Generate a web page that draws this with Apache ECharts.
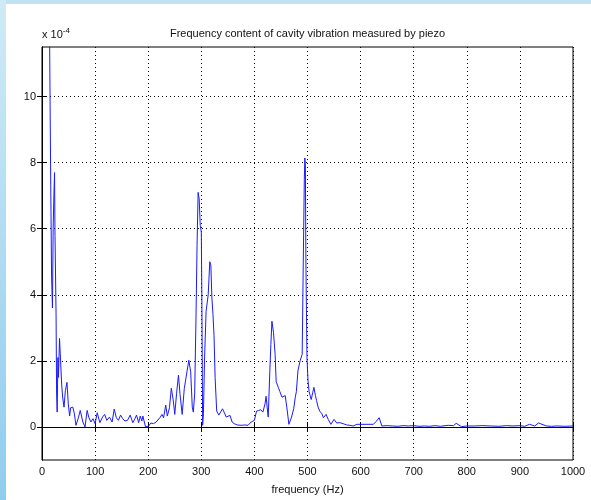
<!DOCTYPE html>
<html>
<head>
<meta charset="utf-8">
<script src="https://cdn.jsdelivr.net/npm/echarts@6/dist/echarts.min.js"></script>
<style>html,body{margin:0;padding:0;background:#fff}#c{width:591px;height:500px}</style>
</head>
<body>
<div id="c"></div>
<script>
// frequency (Hz)
const freq = [14,15,16.5,18,19.7,21,22.5,23.6,24.5,25.5,26.5,27.5,28.6,30,31,33,35,37,39,41.5,44,47,49.5,52,54,58,61,64,68,72,77,81,85,88,92,96,100,104,109,114,118,122,127,132,136,140,144,148,152,156,161,166,171,175,178,182,185,188,190,193,195,197,201,205,210,215,218,222,226,229,233,236,240,243.5,247,250,253.5,257,260,264,268,273,276.5,280,283,285,287.5,290,292,294,296,298,300,301,302.5,304,306,309,313,316,318,320,322,324,326,329,333,336,340,343,347,350,354,358,362,368,375,382,388,394,400,404,408,412,416,420,422,424,426,429,431,433,436,439,441,445,448,452,455,458,461,465,470,474,477,479,482,486,488,490,492,494,495,496,497,499,501,503,505,507,510,512,515,517,520,523,527,530,533,535,539,544,550,555,561,567,574,580,586,593,600,612,624,629,635,640,650,660,670,680,690,700,710,720,730,740,750,765,775,780,790,800,815,830,845,860,875,887,900,909,918,928,935,950,960,970,985,1000];
// amplitude (x 1e-4)
const amp = [12.5,10.3,7.3,4.6,3.6,6.0,7.05,7.7,5.8,5.8,3.4,1.0,0.45,2.1,1.5,2.68,2.0,1.3,0.88,0.6,1.1,1.35,0.7,0.33,0.58,0.6,0.4,0.05,0.25,0.5,0.15,0.0,0.5,0.3,0.15,0.25,0.1,0.43,0.13,0.3,0.38,0.2,0.3,0.15,0.54,0.28,0.2,0.36,0.25,0.18,0.2,0.36,0.13,0.25,0.36,0.13,0.33,0.18,0.33,0.38,0.0,0.06,0.03,0.12,0.1,0.15,0.1,0.28,0.38,0.28,0.66,0.33,0.58,1.17,0.83,0.38,1.02,1.57,0.98,0.38,1.17,1.67,2.02,1.67,0.6,0.45,1.0,3.3,5.5,7.1,6.9,6.1,5.9,4.0,0.05,0.4,2.0,3.5,4.0,5.0,4.9,3.9,3.4,2.76,1.5,0.48,0.36,0.4,0.55,0.6,0.3,0.28,0.35,0.15,0.1,0.06,0.05,0.06,0.05,0.15,0.2,0.48,0.5,0.52,0.45,0.7,0.93,0.6,0.3,1.67,2.5,3.2,2.85,2.2,1.37,1.2,1.07,0.9,0.88,0.95,0.6,0.08,0.3,0.55,0.9,1.07,1.7,2.0,2.05,2.2,4.96,7.5,8.14,7.9,4.96,2.1,1.4,1.07,0.95,0.83,1.05,1.2,0.95,0.8,0.6,0.48,0.4,0.28,0.33,0.38,0.23,0.08,0.23,0.12,0.13,0.1,0.06,0.05,0.03,0.08,0.08,0.08,0.08,0.16,0.28,0.03,0.04,0.03,0.02,0.04,0.03,0.04,0.02,0.03,0.02,0.04,0.02,0.05,0.04,0.11,0.01,0.03,0.03,0.04,0.03,0.02,0.04,0.03,0.04,0.02,0.08,0.03,0.12,0.03,0.02,0.03,0.02,0.03,0.02];
const yTicks = [0,2,4,6,8,10];
const xLabels = [0,100,200,300,400,500,600,700,800,900,1000];

const chart = echarts.init(document.getElementById('c'), null, {renderer:'canvas'});
const font = 'Liberation Sans, Arial, sans-serif';
const txt = '#111';
const grid = {show:true, left:42, right:18, top:47, bottom:34, borderColor:'#000', borderWidth:1, backgroundColor:'#fff'};
const split = {show:true, lineStyle:{color:'#000', type:[1,3], width:1}};
chart.setOption({
  backgroundColor:'#fff',
  animation:false,
  graphic:[
    {type:'rect', shape:{x:0,y:0,width:591,height:4}, style:{fill:'#bfe3f2'}, silent:true, z:-10},
    {type:'rect', shape:{x:0,y:0,width:6,height:500}, style:{fill:new echarts.graphic.LinearGradient(0,0,0,1,[{offset:0,color:'#cfeaf6'},{offset:1,color:'#8fcdee'}])}, silent:true, z:-10}
  ],
  title:{text:'Frequency content of cavity vibration measured by piezo', left:307.5, textAlign:'center', top:28, padding:0,
    textStyle:{fontFamily:font, fontSize:11, fontWeight:'normal', color:txt}},
  grid: grid,
  xAxis:[
    {type:'value', min:0, max:1000, interval:100, position:'bottom',
     name:'frequency (Hz)', nameLocation:'middle', nameGap:24, nameTextStyle:{fontFamily:font, fontSize:11, color:txt},
     axisLine:{show:true, lineStyle:{color:'#000'}}, axisTick:{show:true, inside:true, length:5, lineStyle:{color:'#000'}},
     axisLabel:{fontFamily:font, fontSize:11, color:txt, margin:6, customValues:xLabels, formatter:(v)=>String(v)},
     splitLine:split},
    {type:'value', min:0, max:1000, interval:100, position:'top',
     axisLine:{show:true, lineStyle:{color:'#000'}}, axisTick:{show:true, inside:true, length:5, lineStyle:{color:'#000'}},
     axisLabel:{show:false}, splitLine:{show:false}}
  ],
  yAxis:[
    {type:'value', min:-1, max:11.5, position:'left',
     name:'x 10{s|-4}', nameLocation:'end', nameGap:5,
     nameTextStyle:{fontFamily:font, fontSize:11, color:txt, align:'left', verticalAlign:'bottom',
       rich:{s:{fontFamily:font, fontSize:8, color:txt, padding:[0,0,7,0]}}},
     axisLine:{show:true, lineStyle:{color:'#000'}},
     axisTick:{show:true, inside:true, length:5, customValues:yTicks, lineStyle:{color:'#000'}},
     axisLabel:{fontFamily:font, fontSize:11, color:txt, margin:6, customValues:yTicks, formatter:(v)=>String(v)},
     splitLine:split},
    {type:'value', min:-1, max:11.5, position:'right',
     axisLine:{show:true, lineStyle:{color:'#000'}},
     axisTick:{show:true, inside:true, length:5, customValues:yTicks, lineStyle:{color:'#000'}},
     axisLabel:{show:false}, splitLine:{show:false}}
  ],
  series:[{
    type:'line', xAxisIndex:0, yAxisIndex:0,
    data: freq.map((f,i)=>[f, amp[i]]),
    showSymbol:false, symbol:'none', clip:true,
    lineStyle:{color:'#1a1aff', width:1}
  }]
});
</script>
</body>
</html>
